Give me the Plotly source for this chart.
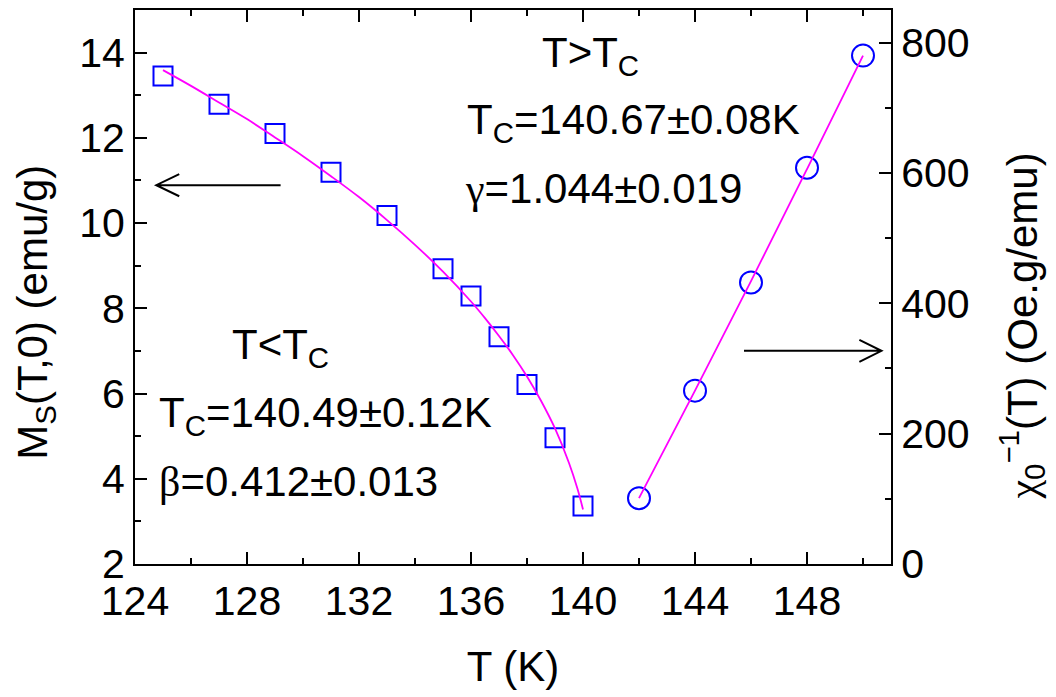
import plotly.graph_objects as go

# ---- data ----
T_below = [125, 127, 129, 131, 133, 135, 136, 137, 138, 139, 140]
Ms_below = [13.45, 12.79, 12.10, 11.19, 10.18, 8.93, 8.29, 7.33, 6.21, 4.96, 3.36]

T_fit_below = [125, 126, 127, 128, 129, 130, 131, 132, 133, 134, 135, 136, 136.5, 137, 137.5,
               138, 138.5, 139, 139.5, 139.8, 140]
Ms_fit_below = [13.59, 13.22, 12.83, 12.44, 12.01, 11.57, 11.10, 10.61, 10.07, 9.49, 8.86, 8.16,
                7.77, 7.35, 6.90, 6.40, 5.83, 5.18, 4.37, 3.77, 3.28]

T_above = [142, 144, 146, 148, 150]
chi_inv_above = [101, 266, 432, 608, 780]

T_fit_above = [142, 144, 146, 148, 150]
chi_fit_above = [101, 266, 434, 606, 780]

x_ticks = [124, 128, 132, 136, 140, 144, 148]
y_ticks = [2, 4, 6, 8, 10, 12, 14]
y2_ticks = [0, 200, 400, 600, 800]

FONT = "Arial, Liberation Sans, sans-serif"
SERIF = "Liberation Serif, Times New Roman, serif"
BLUE = "#0000ff"
MAG = "#ff00ff"

def greek(ch):
    return f'<span style="font-family:{SERIF}">{ch}</span>'

fig = go.Figure()

fig.add_trace(go.Scatter(x=T_below, y=Ms_below, mode="markers",
                         marker=dict(symbol="square-open", size=19, color=BLUE,
                                     line=dict(width=2, color=BLUE)),
                         yaxis="y", showlegend=False))
fig.add_trace(go.Scatter(x=T_fit_below, y=Ms_fit_below, mode="lines",
                         line=dict(color=MAG, width=1.8, shape="spline"),
                         yaxis="y", showlegend=False))
fig.add_trace(go.Scatter(x=T_above, y=chi_inv_above, mode="markers",
                         marker=dict(symbol="circle-open", size=22, color=BLUE,
                                     line=dict(width=2, color=BLUE)),
                         yaxis="y2", showlegend=False))
fig.add_trace(go.Scatter(x=T_fit_above, y=chi_fit_above, mode="lines",
                         line=dict(color=MAG, width=1.8, shape="spline"),
                         yaxis="y2", showlegend=False))

tickfont = dict(family=FONT, size=41, color="black")
common = dict(showgrid=False, zeroline=False, showline=True, linecolor="black", linewidth=2,
              ticks="inside", ticklen=12, tickwidth=2, tickcolor="black", tickfont=tickfont)

fig.update_layout(
    width=1056, height=697,
    margin=dict(l=135, r=165, t=8, b=133),
    paper_bgcolor="white", plot_bgcolor="white",
    xaxis=dict(range=[124, 151], tickvals=x_ticks, mirror="ticks",
               minor=dict(dtick=2, tick0=124, ticks="inside", ticklen=6, tickwidth=2,
                          tickcolor="black", showgrid=False),
               title=dict(text="T (K)", font=dict(family=FONT, size=42, color="black"),
                          standoff=28),
               **common),
    yaxis=dict(range=[2, 15], tickvals=y_ticks,
               minor=dict(dtick=1, tick0=2, ticks="inside", ticklen=6, tickwidth=2,
                          tickcolor="black", showgrid=False),
               **common),
    yaxis2=dict(range=[0, 850], tickvals=y2_ticks, overlaying="y", side="right",
                minor=dict(dtick=100, tick0=0, ticks="inside", ticklen=6, tickwidth=2,
                           tickcolor="black", showgrid=False),
                **common),
)

# axis titles for y axes (as rotated annotations)
fig.add_annotation(text="M<sub>S</sub>(T,0) (emu/g)", xref="paper", yref="paper",
                   x=-0.132, y=0.454, xanchor="center", yanchor="middle", textangle=-90,
                   showarrow=False, font=dict(family=FONT, size=42, color="black"))
fig.add_annotation(text=greek("χ") + "<sub>0</sub><sup>−1</sup>(T) (Oe.g/emu)",
                   xref="paper", yref="paper",
                   x=1.173, y=0.430, xanchor="center", yanchor="middle", textangle=-90,
                   showarrow=False, font=dict(family=FONT, size=42, color="black"))

# text annotations
txt_font = dict(family=FONT, size=42, color="black")
labels = [
    ("T&gt;T<sub>C</sub>", 138.45, 13.93),
    ("T<sub>C</sub>=140.67±0.08K", 135.78, 12.35),
    (greek("γ") + "=1.044±0.019", 135.7, 10.80),
    ("T&lt;T<sub>C</sub>", 127.38, 7.08),
    ("T<sub>C</sub>=140.49±0.12K", 124.78, 5.49),
    (greek("β") + "=0.412±0.013", 124.78, 3.93),
]
for t, x, y in labels:
    fig.add_annotation(text=t, x=x, y=y, xref="x", yref="y", xanchor="left", yanchor="middle",
                       showarrow=False, font=txt_font)

# arrows (open V heads)
ly = 10.89
fig.add_shape(type="path", xref="x", yref="y",
              path=f"M 129.2 {ly} L 124.76 {ly} M 125.58 {ly+0.26} L 124.76 {ly} L 125.58 {ly-0.26}",
              line=dict(color="black", width=2))
ry = 327
fig.add_shape(type="path", xref="x", yref="y2",
              path=f"M 145.75 {ry} L 150.66 {ry} M 149.87 {ry+17} L 150.66 {ry} L 149.87 {ry-17}",
              line=dict(color="black", width=2))

fig.write_html("out.html")
